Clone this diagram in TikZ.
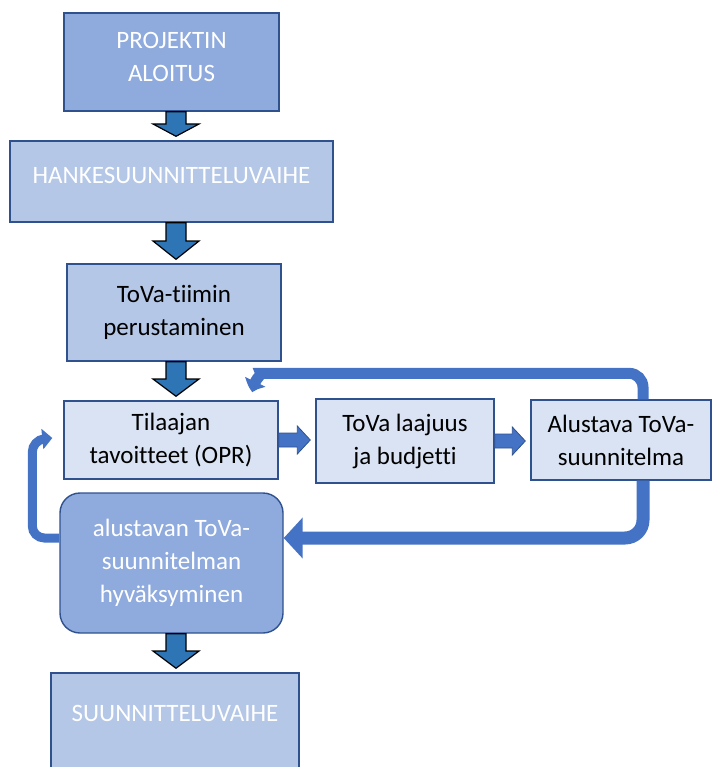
\documentclass[tikz,border=0pt]{standalone}
\usepackage{fontspec}
\setmainfont{Carlito}[Ligatures=NoCommon]
\usetikzlibrary{arrows.meta,calc,bending}

\definecolor{boxedge}{HTML}{2F528F}
\definecolor{fillmid}{HTML}{8FAADC}
\definecolor{filllight}{HTML}{B4C7E7}
\definecolor{fillpale}{HTML}{DAE3F3}
\definecolor{blockfill}{HTML}{2E75B6}
\definecolor{loopblue}{HTML}{4472C4}

% thick block arrow pointing down, from the bottom of #1 to the top of #2
\newcommand\blockdown[2]{%
  \draw[blockarrow] let \p1=(#1.south), \p2=(#2.north),
      \n1={(\y1+\y2+4pt)/2}, \n2={\y2+4pt} in
    (166pt,\y1) -- (186pt,\y1) -- (186pt,\n1) -- (199pt,\n1) -- (176pt,\n2)
    -- (153pt,\n1) -- (166pt,\n1) -- cycle;}

% block arrow pointing right, from the right side of #1 to the left side of #2
\newcommand\blockright[2]{%
  \draw[sidearrow] let \p1=(#1.east), \p2=(#2.west),
      \n1={\x2-18pt}, \n2={\x2-5pt} in
    (\x1,\y1-7pt) -- (\n1,\y1-7pt) -- (\n1,\y1-14pt) -- (\n2,\y1)
    -- (\n1,\y1+14pt) -- (\n1,\y1+7pt) -- (\x1,\y1+7pt) -- cycle;}

\begin{document}
\begin{tikzpicture}[x=1pt,y=-1pt,
  box/.style={draw=boxedge, line width=1.4pt, rectangle, inner sep=0pt,
    align=center, font=\fontsize{25}{33}\selectfont},
  midbox/.style={box, fill=fillmid, text=white},
  lightbox/.style={box, fill=filllight},
  palebox/.style={box, fill=fillpale, text=black},
  captext/.style={text=white, font=\fontsize{25}{33}\selectfont, align=center, inner sep=0pt},
  blockarrow/.style={draw=black, line width=1.2pt, fill=blockfill, line join=miter},
  sidearrow/.style={draw=boxedge, line width=0.8pt, fill=loopblue},
  loopline/.style={draw=loopblue, line cap=butt}]

\useasboundingbox (0,0) rectangle (714,767);

% boxes
\node[midbox, minimum width=215, minimum height=98] (proj) at (171.5,62) {};
\node[captext] (projtext) at (171.5,57) {PROJEKTIN\\ALOITUS};

\node[lightbox, minimum width=323, minimum height=81] (hanke) at (171.5,181.5) {};
\node[captext] (hanketext) at (171.5,175) {HANKESUUNNITTELUVAIHE};

\node[lightbox, text=black, minimum width=214, minimum height=97] (tiimi) at (174,312.5)
  {ToVa-tiimin\\perustaminen};

\node[palebox, minimum width=214, minimum height=78] (til) at (171,440)
  {Tilaajan\\tavoitteet (OPR)};
\node[palebox, minimum width=178, minimum height=84] (laaj) at (405,441)
  {ToVa laajuus\\ja budjetti};
\node[palebox, minimum width=180, minimum height=80] (alu) at (621,440)
  {Alustava ToVa-\\suunnitelma};

\node[midbox, rounded corners=20pt, minimum width=223, minimum height=140] (hyv) at (171.5,563)
  {alustavan ToVa-\\suunnitelman\\hyväksyminen};

\node[lightbox, minimum width=248, minimum height=100] (suun) at (175,723) {};
\node[captext] (suuntext) at (175,713) {SUUNNITTELUVAIHE};

% main flow
\blockdown{proj}{hanke}
\blockdown{hanke}{tiimi}
\blockdown{tiimi}{til}
\blockdown{hyv}{suun}

\blockright{til}{laaj}
\blockright{laaj}{alu}

% feedback loops
\draw[loopline, line width=11pt, -{Triangle[width=22pt,length=11pt,bend]}]
  [rounded corners=14pt] ($(alu.north)+(22,0)$) |- ($(til.north east)+(-4,-27)$)
  [sharp corners] to[out=180,in=95] ($(til.north east)+(-26,-8)$);
\draw[loopline, line width=13pt, rounded corners=18pt, -{Triangle[width=40pt,length=19pt]}]
  ($(alu.south)+(22,0)$) |- ($(hyv.east)+(0,-25)$);
\draw[loopline, line width=9pt, rounded corners=12pt, -{Triangle[width=20pt,length=10pt]}]
  ($(hyv.west)+(0,-25)$) -| ($(til.west)+(-31,0)$) -- ($(til.west)+(-11,-2)$);

\end{tikzpicture}
\end{document}
